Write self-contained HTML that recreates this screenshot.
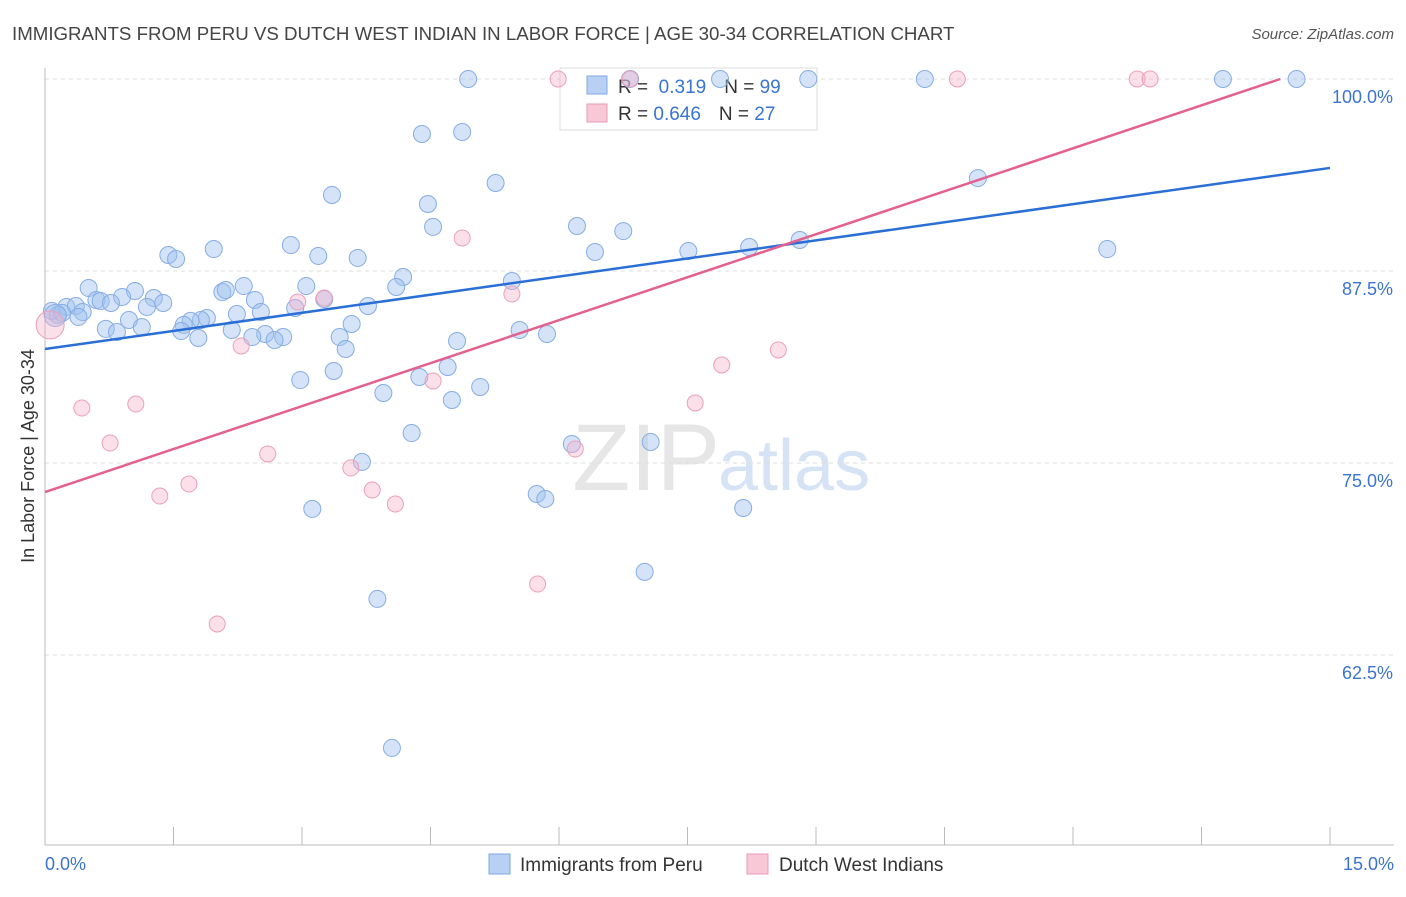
<!DOCTYPE html>
<html><head><meta charset="utf-8"><style>
body{margin:0;background:#fff;font-family:"Liberation Sans",sans-serif}
svg text{font-family:"Liberation Sans",sans-serif}
</style></head><body>
<svg id="c" width="1406" height="892" xmlns="http://www.w3.org/2000/svg">
<text x="12" y="40" font-size="18.7" fill="#444">IMMIGRANTS FROM PERU VS DUTCH WEST INDIAN IN LABOR FORCE | AGE 30-34 CORRELATION CHART</text>
<text x="1394" y="39" font-size="15" fill="#555" font-style="italic" text-anchor="end">Source: ZipAtlas.com</text>
<text x="720" y="490" font-size="95" fill="#e6e6e6" font-family="Liberation Serif" text-anchor="end">ZIP</text>
<text x="718" y="490" font-size="72" fill="#d5e3f5">atlas</text>
<g id="grid"></g><g id="axes"></g>
<g>
<rect x="560" y="68" width="257" height="62" fill="#fff" stroke="#ddd"/>
<rect x="587" y="76" width="20" height="18" fill="#b7d0f3" stroke="#7fa8e0"/>
<rect x="587" y="104" width="20" height="18" fill="#f8c8d7" stroke="#e89ab5"/>
<text x="618" y="93" font-size="19" fill="#333">R = <tspan fill="#3a74d0">&#160;0.319</tspan><tspan dx="18">N = </tspan><tspan fill="#3a74d0">99</tspan></text>
<text x="618" y="120" font-size="19" fill="#333">R = <tspan fill="#3a74d0">0.646</tspan><tspan dx="18">N = </tspan><tspan fill="#3a74d0">27</tspan></text>
</g>
<g id="pts"></g><g id="lines"></g>
<text x="34" y="456" font-size="18" fill="#333" text-anchor="middle" transform="rotate(-90 34 456)">In Labor Force | Age 30-34</text>
<g>
<rect x="489" y="854" width="21" height="20" fill="#b7d0f3" stroke="#7fa8e0"/>
<text x="520" y="871" font-size="19" fill="#333">Immigrants from Peru</text>
<rect x="747" y="854" width="21" height="20" fill="#f8c8d7" stroke="#e89ab5"/>
<text x="779" y="871" font-size="19" fill="#333">Dutch West Indians</text>
</g>
</svg>
<script>
const yTicks=[100,87.5,75,62.5];
const yTickLabels=["100.0%","87.5%","75.0%","62.5%"];
const xEnds=["0.0%","15.0%"];
const blueX=[4.94,6.83,7.88,8.91,10.27,13.75,14.61,4.40,4.87,5.26,3.35,4.47,4.53,6.21,6.75,2.87,1.97,1.44,1.53,3.19,3.65,6.42,7.51,8.22,8.81,10.89,12.40,4.18,5.45,4.10,0.51,1.05,2.07,2.11,2.32,3.05,0.90,0.60,0.65,1.27,1.38,2.45,3.26,3.77,2.92,1.19,0.77,0.25,0.36,0.44,0.08,0.15,0.20,0.39,2.24,2.52,1.89,1.82,1.70,1.62,0.98,3.58,0.71,0.84,1.13,1.59,2.18,2.57,2.78,2.68,2.42,1.79,3.44,5.54,5.86,4.81,3.51,4.70,3.37,2.98,4.37,5.08,3.95,4.75,4.28,6.15,7.07,3.70,5.74,5.84,3.12,8.15,7.00,3.88,4.05,0.12];
const blueY=[100,100,100,100,100,100,100,96.42,96.55,93.23,92.45,91.86,90.37,90.43,90.10,89.19,88.93,88.54,88.28,88.48,88.35,88.74,88.80,89.06,89.52,93.55,88.93,87.11,86.85,86.46,86.39,86.20,86.13,86.26,86.52,86.52,85.81,85.61,85.55,85.74,85.42,85.61,85.68,85.22,85.09,85.16,85.42,85.16,85.22,84.83,84.90,84.64,84.77,84.51,84.70,84.83,84.44,84.31,84.25,83.99,84.31,84.05,83.73,83.53,83.85,83.59,83.66,83.40,83.20,83.01,83.20,83.14,83.20,83.66,83.40,82.94,82.42,81.25,80.99,80.40,80.60,79.95,79.56,79.10,76.95,76.24,76.37,75.07,72.98,72.66,72.01,72.07,67.91,66.15,56.45,84.60];
const pinkX=[5.99,6.83,10.65,12.75,12.90,4.87,5.45,2.95,3.26,2.29,8.56,7.90,4.53,0.43,1.06,0.76,7.59,2.60,6.19,3.57,1.68,1.34,3.82,4.09,5.75,2.01,0.06];
const pinkY=[100,100,100,100,100,89.65,86.00,85.48,85.74,82.62,82.36,81.38,80.34,78.58,78.84,76.30,78.91,75.59,75.91,74.68,73.63,72.85,73.24,72.33,67.12,64.52,83.99];
const blueLine=[[0,82.42],[15,94.21]];
const pinkLine=[[0,73.11],[14.42,100]];
const X0=45,X1=1330,Y100=79,PXPER=15.36;
const sx=v=>X0+(X1-X0)*v/15;
const sy=v=>Y100+(100-v)*PXPER;
const NS="http://www.w3.org/2000/svg";
function mk(t,a,p){const e=document.createElementNS(NS,t);for(const k in a)e.setAttribute(k,a[k]);p.appendChild(e);return e;}
const grid=document.getElementById('grid'),axes=document.getElementById('axes');
yTicks.forEach((t,i)=>{
 const l=mk('line',{x1:X0,x2:1394,y1:sy(t),y2:sy(t),stroke:'#ddd','stroke-dasharray':'4,4'},grid);
 
 
 const tx=mk('text',{x:1393,y:sy(t)+24,'font-size':18,fill:'#3a74d0','text-anchor':'end'},axes);
 tx.textContent=yTickLabels[i];
 
 
});
const ax=mk('line',{x1:X0,x2:X0,y1:68,y2:845,stroke:'#bbb'},axes);


const bx=mk('line',{x1:X0,x2:1394,y1:845,y2:845,stroke:'#bbb'},axes);


for(let i=0;i<=10;i++){const t=mk('line',{x1:sx(i*1.5),x2:sx(i*1.5),y1:827,y2:845,stroke:'#bbb'},axes);
 
 }
xEnds.forEach((s,i)=>{const t=mk('text',{x:i?1394:45,y:870,'font-size':18,fill:'#3a74d0','text-anchor':i?'end':'start'},axes);t.textContent=s;
 
 });
const pts=document.getElementById('pts');
blueX.forEach((x,i)=>{const c=mk('circle',{cx:sx(x),cy:sy(blueY[i]),r:i==blueX.length-1?11:8.5,fill:'rgba(160,193,240,0.45)',stroke:'#86ade4','stroke-width':1},pts);
 
 });
pinkX.forEach((x,i)=>{const c=mk('circle',{cx:sx(x),cy:sy(pinkY[i]),r:i==pinkX.length-1?14:8,fill:'rgba(245,175,200,0.4)',stroke:'#eaa0ba','stroke-width':1},pts);
 
 });
const lines=document.getElementById('lines');
const b=mk('line',{x1:sx(blueLine[0][0]),y1:sy(blueLine[0][1]),x2:sx(blueLine[1][0]),y2:sy(blueLine[1][1]),stroke:'#2a6fd6','stroke-width':2.5},lines);


const p=mk('line',{x1:sx(pinkLine[0][0]),y1:sy(pinkLine[0][1]),x2:sx(pinkLine[1][0]),y2:sy(pinkLine[1][1]),stroke:'#e4608e','stroke-width':2.5},lines);


</script>
</body></html>
